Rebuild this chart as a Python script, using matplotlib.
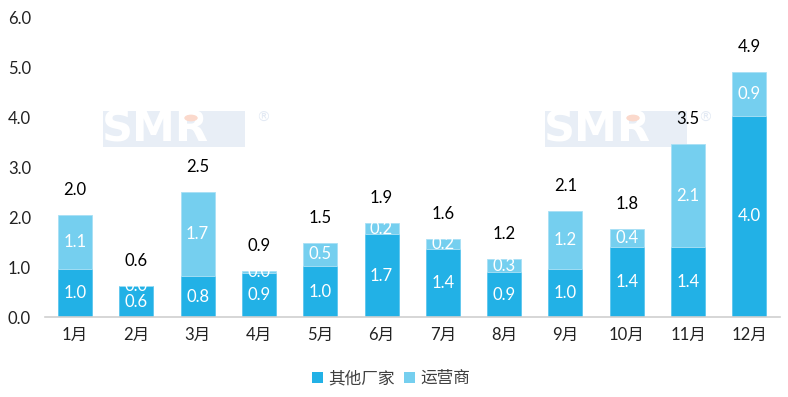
import matplotlib
matplotlib.use("Agg")
import matplotlib.pyplot as plt
from matplotlib.patches import Rectangle, Circle
import numpy as np

plt.rcParams['font.family'] = ['Lato', 'Noto Sans CJK SC', 'DejaVu Sans']

months = ['1月', '2月', '3月', '4月', '5月', '6月', '7月', '8月', '9月', '10月', '11月', '12月']
others = [0.97, 0.62, 0.82, 0.88, 1.02, 1.66, 1.37, 0.90, 0.96, 1.40, 1.40, 4.04]
operators = [1.07, 0.01, 1.69, 0.04, 0.47, 0.22, 0.20, 0.26, 1.16, 0.36, 2.07, 0.88]
series_names = ['其他厂家', '运营商']
yticks = [0.0, 1.0, 2.0, 3.0, 4.0, 5.0, 6.0]

c_dark = '#22b1e6'
c_light = '#75cfef'

fig = plt.figure(figsize=(7.88, 3.97), dpi=100)
ax = fig.add_axes([45/788, 1-317/397, 735/788, (317-18)/397])

# watermarks (behind bars)
for x0 in (103, 545):
    ax.add_patch(Rectangle((x0/788, 1-147/397), 142/788, 36/397,
                           transform=fig.transFigure, facecolor='#e8eef6',
                           edgecolor='none', zorder=0.5, clip_on=False))
    ax.text((x0+52)/788, 1-129/397, 'SMR', color='white', fontsize=31,
            fontweight='heavy', ha='center', va='center', zorder=0.6,
            family='DejaVu Sans', transform=fig.transFigure)
    ax.add_patch(Circle(((x0+88)/788, 1-118/397), 0.0085,
                        transform=fig.transFigure, facecolor='#fbd9cc',
                        edgecolor='none', zorder=0.7, clip_on=False))
    ax.text((x0+160)/788, 1-118/397, '®', color='#e3eaf4', fontsize=10,
            ha='center', va='center', zorder=0.6, family='DejaVu Sans',
            transform=fig.transFigure)

x = np.arange(len(months))
w = 0.555
others_a = np.array(others)
ops_a = np.array(operators)
b1 = ax.bar(x, others_a, w, color=c_dark, label=series_names[0], zorder=2,
            edgecolor='#5cc6ee', linewidth=0.6)
b2 = ax.bar(x, ops_a, w, bottom=others_a, color=c_light, label=series_names[1],
            zorder=2, edgecolor='#a8e0f5', linewidth=0.6)

for i in range(len(months)):
    ax.text(x[i], others_a[i]/2, f'{others_a[i]:.1f}', color='white',
            ha='center', va='center', fontsize=12, zorder=3)
    ax.text(x[i], others_a[i] + ops_a[i]/2, f'{ops_a[i]:.1f}', color='white',
            ha='center', va='center', fontsize=12, zorder=3)
    tot = others_a[i] + ops_a[i]
    ax.text(x[i], tot + 0.5, f'{tot:.1f}', color='black',
            ha='center', va='center', fontsize=12, zorder=3)

ax.set_xlim(-0.49, 11.5)
ax.set_ylim(0, 6)
ax.set_yticks(yticks)
ax.set_yticklabels([f'{v:.1f}' for v in yticks], fontsize=12, color='#222222')
ax.set_xticks(x)
ax.set_xticklabels(months, fontsize=12, color='#222222')
ax.tick_params(axis='both', length=0)
ax.tick_params(axis='x', pad=7)
ax.tick_params(axis='y', pad=10)
for s in ['left', 'right', 'top']:
    ax.spines[s].set_visible(False)
ax.spines['bottom'].set_color('#d0d0d0')
ax.spines['bottom'].set_linewidth(1.2)
ax.set_facecolor('none')

leg = fig.legend(handles=[b1, b2], labels=series_names, loc='center',
                 bbox_to_anchor=(391/788, 1-378/397), ncol=2, frameon=False,
                 fontsize=12, handlelength=0.65, handleheight=0.65,
                 handletextpad=0.3, columnspacing=0.6)
for t in leg.get_texts():
    t.set_color('#404040')
for h in leg.legend_handles:
    h.set_edgecolor('none')

fig.savefig('out.png', dpi=100)
